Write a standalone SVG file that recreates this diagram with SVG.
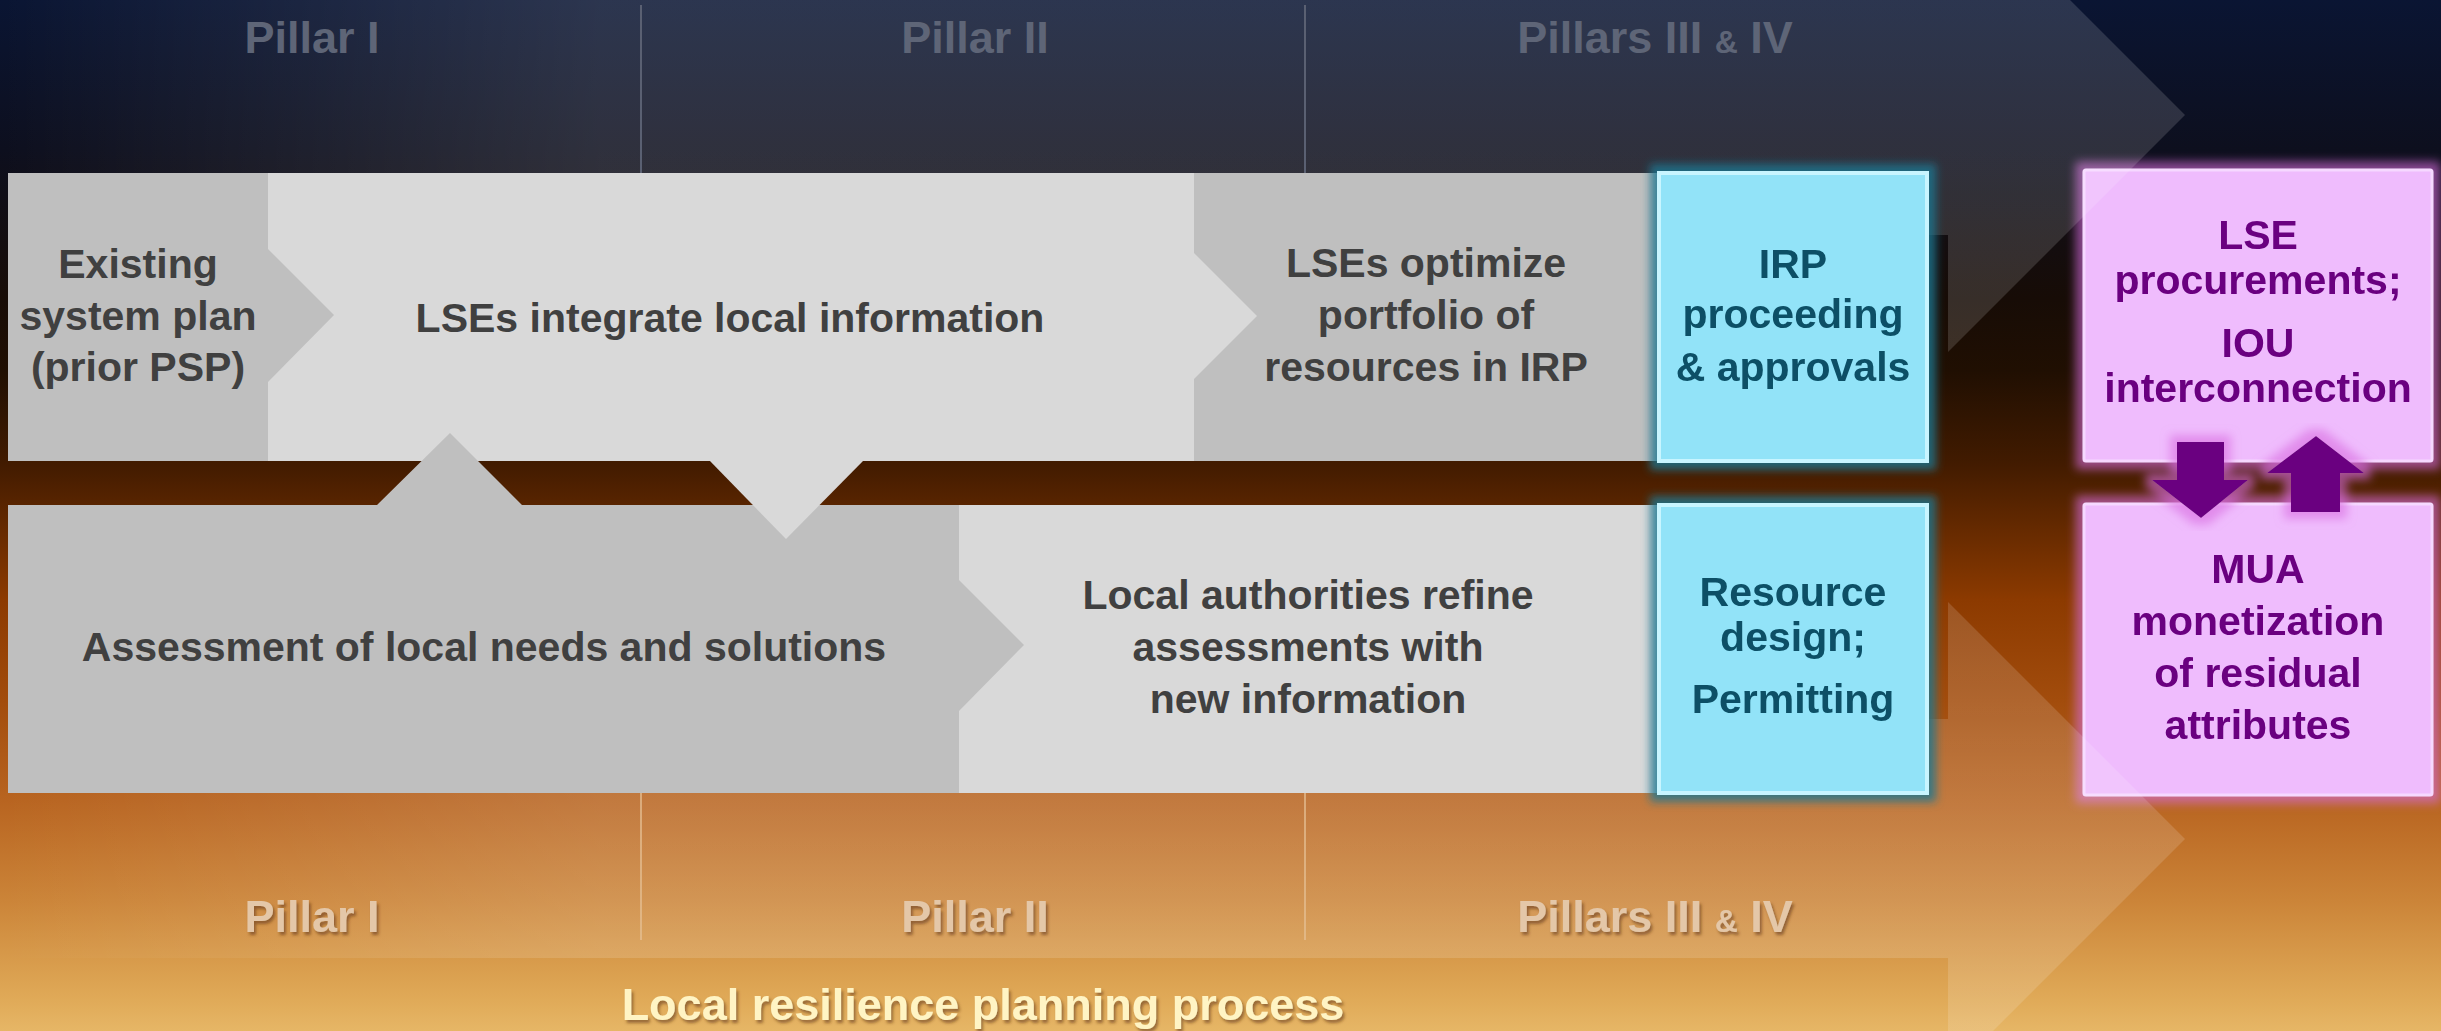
<svg xmlns="http://www.w3.org/2000/svg" width="2441" height="1031" viewBox="0 0 2441 1031">
<defs>
<style>
text { font-family: "Liberation Sans", Arial, sans-serif; font-weight: bold; text-anchor: middle; }
.g { font-size: 41px; fill: #404040; }
.b { font-size: 41px; fill: #0b5066; }
.p { font-size: 41px; fill: #6b0080; }
.pt { font-size: 45px; fill: #5e6577; }
.pb { font-size: 45px; fill: #e4c7a8; }
.ft { font-size: 45px; fill: #fff4c4; }
.amp { font-size: 32px; }
.mid { fill: #bfbfbf; }
.lt { fill: #d9d9d9; }
.blue { fill: #92e3f8; stroke: #c8f5ff; stroke-width: 4; }
.pink { fill: #efbcfd; stroke: #f6d8ff; stroke-width: 3; }
.arrow { fill: #6b0080; }
.sepT { stroke: #5a6072; stroke-width: 2; }
.sepB { stroke: #e6c096; stroke-width: 2; stroke-opacity: 0.7; }
.chev { fill: url(#chevFill); }
.base { fill: url(#bg); }
</style>
<linearGradient id="bg" x1="0" y1="0" x2="0" y2="1031" gradientUnits="userSpaceOnUse">
<stop offset="0" stop-color="#0a1533"/>
<stop offset="0.145" stop-color="#0d0f1e"/>
<stop offset="0.29" stop-color="#170c06"/>
<stop offset="0.36" stop-color="#200f02"/>
<stop offset="0.45" stop-color="#421b00"/>
<stop offset="0.582" stop-color="#8c3a00"/>
<stop offset="0.679" stop-color="#a24c0c"/>
<stop offset="0.776" stop-color="#b86420"/>
<stop offset="0.873" stop-color="#cb8438"/>
<stop offset="0.97" stop-color="#e0aa58"/>
<stop offset="1" stop-color="#e6b666"/>
</linearGradient>
<linearGradient id="chevFill" x1="0" y1="0" x2="600" y2="0" gradientUnits="userSpaceOnUse">
<stop offset="0" stop-color="#ffffff" stop-opacity="0"/>
<stop offset="1" stop-color="#ffffff" stop-opacity="0.14"/>
</linearGradient>
<filter id="glowB" x="-10%" y="-10%" width="120%" height="120%">
<feMorphology in="SourceAlpha" operator="dilate" radius="7" result="d"/>
<feGaussianBlur in="d" stdDeviation="4" result="bl"/>
<feFlood flood-color="#1e7690" flood-opacity="0.8"/>
<feComposite in2="bl" operator="in" result="gl"/>
<feMerge><feMergeNode in="gl"/><feMergeNode in="SourceGraphic"/></feMerge>
</filter>
<filter id="glowP" x="-15%" y="-15%" width="130%" height="130%">
<feMorphology in="SourceAlpha" operator="dilate" radius="7" result="d"/>
<feGaussianBlur in="d" stdDeviation="5" result="bl"/>
<feFlood flood-color="#d86ce0" flood-opacity="0.6"/>
<feComposite in2="bl" operator="in" result="gl"/>
<feMerge><feMergeNode in="gl"/><feMergeNode in="SourceGraphic"/></feMerge>
</filter>
<filter id="tsh" x="-10%" y="-20%" width="120%" height="150%">
<feDropShadow dx="2" dy="3" stdDeviation="1.5" flood-color="#5a2e08" flood-opacity="0.55"/>
</filter>
</defs>

<!-- background -->
<rect x="0" y="0" width="2441" height="1031" class="base"/>

<!-- pink nodes (behind the chevron overlays) -->
<g id="node-lse-procurements" filter="url(#glowP)">
<rect x="2084" y="170" width="348" height="291" rx="2" class="pink"/>
<text class="p" x="2258" y="249">LSE</text>
<text class="p" x="2258" y="294">procurements;</text>
<text class="p" x="2258" y="357">IOU</text>
<text class="p" x="2258" y="402">interconnection</text>
</g>
<g id="node-mua" filter="url(#glowP)">
<rect x="2084" y="504" width="348" height="291" rx="2" class="pink"/>
<text class="p" x="2258" y="583">MUA</text>
<text class="p" x="2258" y="635">monetization</text>
<text class="p" x="2258" y="687">of residual</text>
<text class="p" x="2258" y="739">attributes</text>
</g>

<!-- large chevron overlays -->
<g id="chevrons">
<polygon class="chev" points="0,-130 1940,-130 2185,115 1940,360 0,360"/>
<polygon class="chev" points="0,539 1885,539 2185,839 1885,1139 0,1139"/>
</g>

<!-- background-coloured panels -->
<rect x="1600" y="235" width="348" height="484" class="base"/>
<rect x="0" y="958" width="1948" height="73" class="base"/>

<!-- pillar separators and labels -->
<g id="pillars">
<line class="sepT" x1="641" y1="5" x2="641" y2="173"/>
<line class="sepT" x1="1305" y1="5" x2="1305" y2="173"/>
<text class="pt" x="312" y="53">Pillar I</text>
<text class="pt" x="975" y="53">Pillar II</text>
<text class="pt" x="1655" y="53">Pillars III <tspan class="amp">&amp;</tspan> IV</text>
<line class="sepB" x1="641" y1="793" x2="641" y2="940"/>
<line class="sepB" x1="1305" y1="793" x2="1305" y2="940"/>
<g filter="url(#tsh)">
<text class="pb" x="312" y="932">Pillar I</text>
<text class="pb" x="975" y="932">Pillar II</text>
<text class="pb" x="1655" y="932">Pillars III <tspan class="amp">&amp;</tspan> IV</text>
</g>
</g>

<!-- gray process nodes -->
<g id="node-lses-optimize">
<rect x="1194" y="173" width="463" height="288" class="mid"/>
<text class="g" x="1426" y="277">LSEs optimize</text>
<text class="g" x="1426" y="329">portfolio of</text>
<text class="g" x="1426" y="381">resources in IRP</text>
</g>
<g id="node-lses-integrate">
<polygon class="lt" points="268,173 1194,173 1194,253 1257,316 1194,379 1194,461 268,461"/>
<text class="g" x="730" y="332">LSEs integrate local information</text>
</g>
<g id="node-existing-plan">
<polygon class="mid" points="8,173 268,173 268,249 334,315 268,382 268,461 8,461"/>
<text class="g" x="138" y="278">Existing</text>
<text class="g" x="138" y="330">system plan</text>
<text class="g" x="138" y="381">(prior PSP)</text>
</g>
<g id="node-local-authorities">
<rect x="959" y="505" width="698" height="288" class="lt"/>
<text class="g" x="1308" y="609">Local authorities refine</text>
<text class="g" x="1308" y="661">assessments with</text>
<text class="g" x="1308" y="713">new information</text>
</g>
<g id="node-assessment">
<polygon class="mid" points="8,505 377,505 450,433 522,505 959,505 959,580 1024,645 959,711 959,793 8,793"/>
<text class="g" x="484" y="661">Assessment of local needs and solutions</text>
</g>
<!-- downward tab of the LSEs integrate block, drawn over the assessment block -->
<polygon class="lt" points="709,460 864,460 786,539"/>

<!-- blue nodes -->
<g id="node-irp" filter="url(#glowB)">
<rect x="1659" y="173" width="268" height="288" class="blue"/>
<text class="b" x="1793" y="278">IRP</text>
<text class="b" x="1793" y="328">proceeding</text>
<text class="b" x="1793" y="381">&amp; approvals</text>
</g>
<g id="node-resource-design" filter="url(#glowB)">
<rect x="1659" y="505" width="268" height="288" class="blue"/>
<text class="b" x="1793" y="606">Resource</text>
<text class="b" x="1793" y="651">design;</text>
<text class="b" x="1793" y="713">Permitting</text>
</g>

<!-- connectors between pink nodes -->
<g id="connectors" filter="url(#glowP)">
<polygon class="arrow" points="2177,442 2224,442 2224,480 2248,480 2201,518 2152,480 2177,480"/>
<polygon class="arrow" points="2316,436 2364,473 2340,473 2340,512 2291,512 2291,473 2267,473"/>
</g>

<!-- footer label -->
<g id="footer" filter="url(#tsh)">
<text class="ft" x="983" y="1020">Local resilience planning process</text>
</g>
</svg>
